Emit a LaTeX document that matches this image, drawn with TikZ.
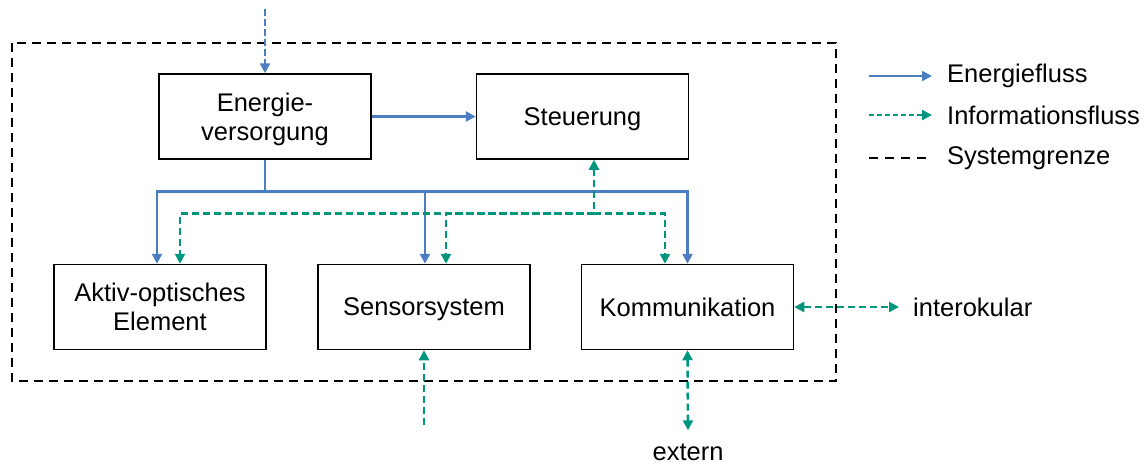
\documentclass[tikz,border=0pt]{standalone}
\usepackage{fontspec}
\setmainfont{Liberation Sans}
\usetikzlibrary{arrows.meta,calc}
\definecolor{energyblue}{RGB}{74,126,193}
\definecolor{infogreen}{RGB}{0,150,125}
\tikzset{
  block/.style={draw=black,line width=1.5pt,fill=white,minimum width=212pt,minimum height=85pt,
    align=center,inner sep=2pt,text depth=0pt,font=\fontsize{25.5}{29}\selectfont},
  lbl/.style={inner sep=0pt,font=\fontsize{25.5}{29}\selectfont},
  tip/.style={-{Triangle[length=10pt,width=10pt]}},
  dtip/.style={{Triangle[length=10pt,width=10pt]}-{Triangle[length=10pt,width=10pt]}},
  energy/.style={draw=energyblue,line width=2.6pt},
  info/.style={draw=infogreen,line width=2.6pt,dash pattern=on 7pt off 4pt},
  sysb/.style={draw=black,line width=2.4pt,dash pattern=on 9pt off 6pt}
}
\begin{document}
\begin{tikzpicture}[x=1pt,y=-1pt]
\useasboundingbox (0,0) rectangle (1147,466);

% system boundary
\draw[sysb] (12,43) rectangle (836,381);

% blocks
\node[block] (E)  at (265,116.5) {Energie-\\versorgung};
\node[block] (St) at (582.5,116.5) {Steuerung};
\node[block] (A)  at (160,307) {Aktiv-optisches\\Element};
\node[block] (S)  at (424,307) {Sensorsystem};
\node[block] (K)  at (687.5,307) {Kommunikation};

% external labels
\node[lbl,anchor=base] (ext) at (688,460) {extern};
\node[lbl,anchor=west] (io) at (913,307) {interokular};

% energy flow
\draw[energy,tip,dash pattern=on 7pt off 3pt] ([yshift=64pt]E.north) -- (E.north);
\draw[energy,tip] (E.east) -- (St.west);
\draw[energy,tip] (E.south) -- ++(0,32) -| ([xshift=-3pt]A.north);
\draw[energy,tip] (E.south) -- ++(0,32) -| ([xshift=1pt]S.north);
\draw[energy,tip] (E.south) -- ++(0,32) -| (K.north);

% information flow
\path ([xshift=11.5pt]St.south) ++(0,54) coordinate (ibus);
\draw[info,dtip] ([xshift=11.5pt]St.south) -- (ibus) -| ([xshift=20pt]A.north);
\draw[info,tip] (ibus) -| ([xshift=22pt]S.north);
\draw[info,tip] (ibus) -| ([xshift=-22.5pt]K.north);
\draw[info,tip] ([yshift=-75pt]S.south) -- (S.south);
\draw[info,dtip] (K.south) -- ([yshift=13pt]ext.north);
\draw[info,dtip] (K.east) -- ([xshift=-14pt]io.west);

% legend
\node[lbl,anchor=west] (l1) at (947,76) {Energiefluss};
\node[lbl,anchor=west] (l2) at (947,115) {Informationsfluss};
\node[lbl,anchor=west] (l3) at (947,158) {Systemgrenze};
\draw[energy,line width=2pt,tip] ([xshift=-78pt]l1.west) -- ([xshift=-15pt]l1.west);
\draw[info,line width=2pt,dash pattern=on 5pt off 3pt,tip] ([xshift=-78pt]l2.west) -- ([xshift=-15pt]l2.west);
\draw[sysb,line width=2pt,dash pattern=on 9pt off 7pt] ([xshift=-78pt]l3.west) -- ([xshift=-17pt]l3.west);
\end{tikzpicture}
\end{document}
